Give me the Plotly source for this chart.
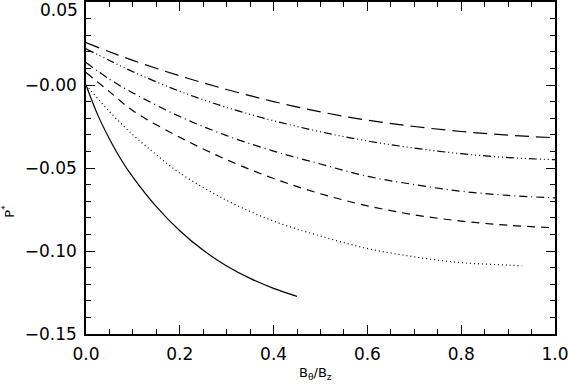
import plotly.graph_objects as go

# --- data ---
x_solid = [0, 0.025, 0.05, 0.075, 0.1, 0.15, 0.2, 0.25, 0.3, 0.35, 0.4, 0.45]
y_solid = [0, -0.018, -0.0325, -0.0450, -0.0555, -0.0733, -0.0878, -0.0996, -0.1090, -0.1165, -0.1225, -0.1273]

x_dot = [0, 0.05, 0.1, 0.15, 0.2, 0.3, 0.4, 0.5, 0.6, 0.7, 0.8, 0.9, 0.93]
y_dot = [0, -0.016, -0.030, -0.042, -0.053, -0.0695, -0.082, -0.091, -0.0985, -0.1035, -0.107, -0.1085, -0.109]

x_full = [0, 0.05, 0.1, 0.2, 0.3, 0.4, 0.5, 0.6, 0.7, 0.8, 0.9, 1.0]
y_dash = [0.0075, -0.004, -0.0155, -0.0315, -0.0450, -0.0563, -0.0655, -0.0728, -0.0782, -0.0820, -0.0845, -0.0860]
y_dashdot = [0.0135, 0.0035, -0.0048, -0.0190, -0.0305, -0.0398, -0.0476, -0.0550, -0.0600, -0.0640, -0.0665, -0.0680]
y_dash3dot = [0.0218, 0.0148, 0.0080, -0.0038, -0.0135, -0.0215, -0.0282, -0.0337, -0.0380, -0.0414, -0.0437, -0.0450]
y_longdash = [0.0255, 0.0200, 0.0148, 0.0055, -0.0027, -0.0100, -0.0162, -0.0212, -0.0250, -0.0280, -0.0302, -0.0318]

x_tickvals = [0.0, 0.2, 0.4, 0.6, 0.8, 1.0]
x_ticktext = ["0.0", "0.2", "0.4", "0.6", "0.8", "1.0"]
y_tickvals = [-0.15, -0.10, -0.05, 0.0, 0.05]
y_ticktext = ["\u22120.15", "\u22120.10", "\u22120.05", "\u22120.00", ""]
y_top_label = "0.05"

series = [
    (x_solid, y_solid, "solid"),
    (x_dot, y_dot, "1px,3px"),
    (x_full, y_dash, "8px,6px"),
    (x_full, y_dashdot, "8px,4px,1px,4px"),
    (x_full, y_dash3dot, "8px,3px,1px,3px,1px,3px,1px,3px"),
    (x_full, y_longdash, "14px,7px"),
]

fig = go.Figure()
for xs, ys, dash in series:
    fig.add_trace(go.Scatter(x=xs, y=ys, mode="lines", line_shape="spline",
                             line=dict(color="black", width=1.2, dash=dash),
                             showlegend=False, hoverinfo="skip"))

font_family = "DejaVu Sans"
axis_common = dict(showline=True, linecolor="black", linewidth=1.5, mirror="allticks",
                   ticks="inside", ticklen=9, tickwidth=1.2, tickcolor="black",
                   showgrid=False, zeroline=False, automargin=False,
                   ticklabeloverflow="allow",
                   tickfont=dict(family=font_family, size=17, color="black"))

fig.update_xaxes(range=[0, 1.000001], tickmode="array", tickvals=x_tickvals, ticktext=x_ticktext,
                 minor=dict(ticks="inside", ticklen=5, tickwidth=1, tickcolor="black", dtick=0.05, showgrid=False),
                 ticklabelstandoff=4,
                 **axis_common)
fig.update_yaxes(range=[-0.1500001, 0.0500001], tickmode="array", tickvals=y_tickvals, ticktext=y_ticktext,
                 minor=dict(ticks="inside", ticklen=5, tickwidth=1, tickcolor="black", dtick=0.01, showgrid=False),
                 ticklabelstandoff=4,
                 **axis_common)

fig.add_annotation(text=y_top_label, xref="paper", yref="paper",
                   x=-0.012, y=0.976, xanchor="right", yanchor="middle", showarrow=False,
                   font=dict(family=font_family, size=17, color="black"))
fig.add_annotation(text="B<sub>\u03b8</sub>/B<sub>z</sub>", xref="paper", yref="paper",
                   x=0.49, y=-0.118, xanchor="center", yanchor="middle", showarrow=False,
                   font=dict(family=font_family, size=13, color="black"))
fig.add_annotation(text="P<sup>*</sup>", xref="paper", yref="paper",
                   x=-0.165, y=0.37, xanchor="center", yanchor="middle", showarrow=False, textangle=-90,
                   font=dict(family=font_family, size=13, color="black"))

fig.update_layout(width=568, height=391, margin=dict(l=86, r=13, t=2, b=57),
                  plot_bgcolor="white", paper_bgcolor="white")

fig.write_html("out.html", config={"displayModeBar": False},
               post_script="document.body.style.margin='0px';document.body.style.overflow='hidden';")
